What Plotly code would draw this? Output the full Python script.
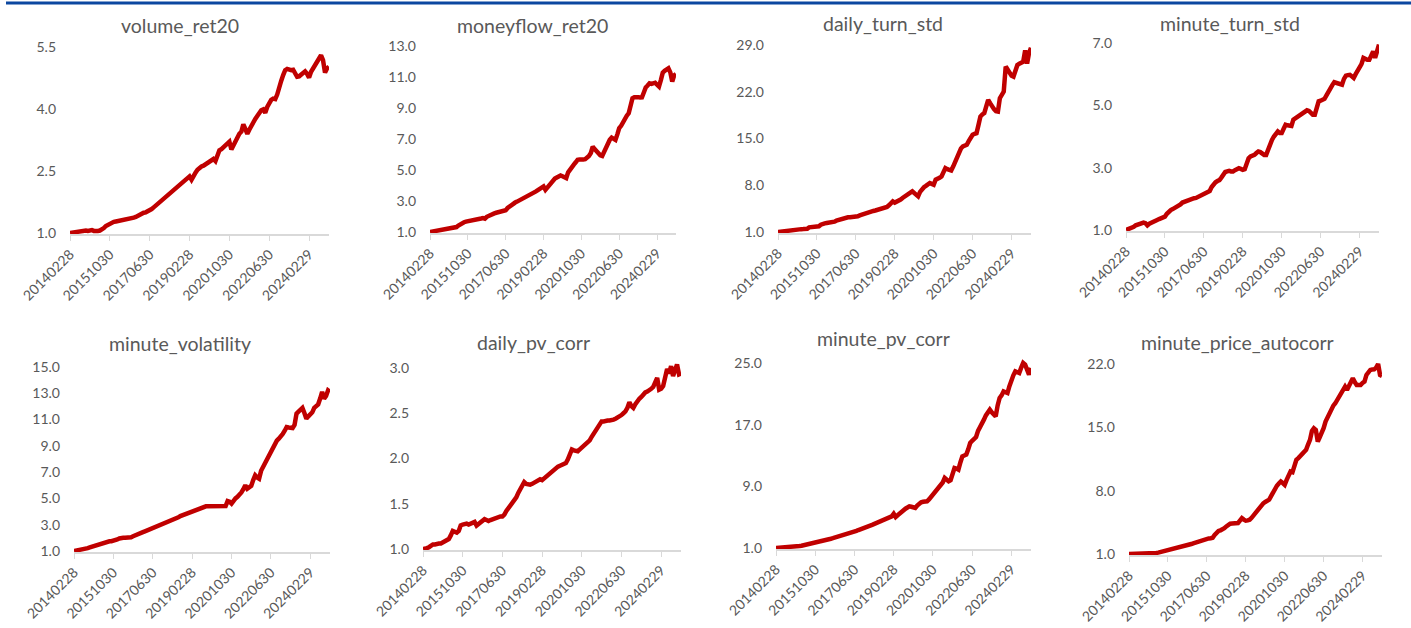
import plotly.graph_objects as go
import pandas as pd

try:
    _idx = pd.date_range("2014-02-01", periods=131, freq="BME")
except Exception:
    _idx = pd.date_range("2014-02-01", periods=131, freq="BM")
dates = [d.strftime("%Y%m%d") for d in _idx]
tick_dates = [dates[i] for i in range(0, 131, 20)]

volume_ret20 = [
    1.00, 1.01, 1.01, 1.02, 1.02, 1.03, 1.04, 1.05, 1.06, 1.05,
    1.06, 1.07, 1.05, 1.04, 1.05, 1.06, 1.08, 1.12, 1.17, 1.20,
    1.22, 1.25, 1.27, 1.28, 1.29, 1.29, 1.30, 1.30, 1.31, 1.32,
    1.33, 1.35, 1.37, 1.39, 1.42, 1.46, 1.48, 1.49, 1.50, 1.52,
    1.55, 1.58, 1.62, 1.66, 1.71, 1.75, 1.79, 1.83, 1.87, 1.91,
    1.95, 1.99, 2.03, 2.07, 2.11, 2.15, 2.19, 2.23, 2.28, 2.33,
    2.37, 2.29, 2.40, 2.46, 2.53, 2.58, 2.61, 2.63, 2.66, 2.69,
    2.72, 2.76, 2.79, 2.74, 2.90, 3.00, 3.03, 3.07, 3.12, 3.17,
    3.21, 3.02, 3.13, 3.24, 3.32, 3.40, 3.45, 3.63, 3.52, 3.40,
    3.50, 3.60, 3.69, 3.76, 3.83, 3.90, 3.97, 3.99, 3.91, 4.05,
    4.17, 4.22, 4.25, 4.24, 4.35, 4.48, 4.68, 4.82, 4.94, 4.97,
    4.95, 4.94, 4.95, 4.88, 4.78, 4.79, 4.82, 4.86, 4.91, 4.85,
    4.76, 4.90, 4.98, 5.05, 5.14, 5.22, 5.30, 5.18, 4.88, 4.98, 5.02,
]
moneyflow_ret20 = [
    1.00, 1.02, 1.03, 1.05, 1.08, 1.10, 1.15, 1.17, 1.20, 1.22,
    1.24, 1.26, 1.30, 1.27, 1.32, 1.42, 1.52, 1.58, 1.63, 1.67,
    1.69, 1.68, 1.72, 1.76, 1.78, 1.80, 1.84, 1.87, 1.90, 1.86,
    1.98, 2.05, 2.10, 2.15, 2.20, 2.24, 2.27, 2.28, 2.30, 2.35,
    2.40, 2.55, 2.65, 2.76, 2.84, 2.90, 2.96, 3.02, 3.08, 3.13,
    3.18, 3.25, 3.30, 3.38, 3.46, 3.54, 3.62, 3.70, 3.78, 3.86,
    3.94, 3.72, 3.88, 4.05, 4.22, 4.37, 4.45, 4.52, 4.60, 4.65,
    4.60, 4.52, 4.48, 4.85, 5.05, 5.23, 5.35, 5.50, 5.66, 5.68,
    5.65, 5.68, 5.70, 5.80, 5.91, 6.10, 6.50, 6.35, 6.19, 6.05,
    5.95, 5.91, 6.20, 6.50, 6.73, 6.95, 7.09, 7.05, 6.94, 7.30,
    7.70, 7.85, 8.12, 8.35, 8.50, 8.66, 9.10, 9.63, 9.70, 9.73,
    9.70, 9.68, 9.69, 10.00, 10.33, 10.45, 10.59, 10.55, 10.60, 10.63,
    10.50, 10.38, 10.80, 11.28, 11.40, 11.50, 11.56, 11.30, 10.70, 11.10, 11.19,
]
daily_turn_std = [
    1.00, 1.05, 1.08, 1.12, 1.15, 1.20, 1.25, 1.30, 1.35, 1.38,
    1.40, 1.42, 1.43, 1.44, 1.45, 1.48, 1.70, 1.75, 1.80, 1.82,
    1.84, 1.86, 2.10, 2.25, 2.30, 2.35, 2.38, 2.42, 2.45, 2.55,
    2.70, 2.80, 2.84, 2.95, 3.05, 3.15, 3.20, 3.22, 3.23, 3.24,
    3.24, 3.35, 3.48, 3.60, 3.70, 3.80, 3.90, 4.00, 4.09, 4.15,
    4.22, 4.28, 4.34, 4.44, 4.55, 4.65, 4.74, 5.00, 5.30, 5.58,
    5.40, 5.50, 5.60, 5.85, 6.10, 6.35, 6.58, 6.75, 6.90, 7.08,
    6.85, 6.60, 6.33, 7.00, 7.45, 7.70, 7.90, 8.10, 8.33, 8.20,
    8.08, 8.82, 8.90, 9.10, 9.32, 9.90, 10.57, 10.40, 10.25, 10.20,
    10.80, 11.56, 12.20, 12.90, 13.50, 13.80, 13.90, 14.05, 14.60, 15.10,
    15.55, 15.70, 15.80, 17.00, 18.29, 18.60, 18.79, 19.80, 20.78, 20.30,
    19.78, 19.40, 19.10, 19.04, 21.03, 21.40, 22.03, 25.77, 25.20, 24.77,
    24.40, 24.27, 25.20, 26.00, 26.20, 26.40, 26.50, 28.20, 26.20, 27.80, 28.60,
]
minute_turn_std = [
    1.00, 1.02, 1.04, 1.07, 1.10, 1.15, 1.18, 1.20, 1.22, 1.24,
    1.22, 1.15, 1.20, 1.24, 1.27, 1.30, 1.32, 1.35, 1.38, 1.40,
    1.43, 1.52, 1.60, 1.64, 1.67, 1.70, 1.73, 1.77, 1.82, 1.88,
    1.91, 1.94, 1.96, 1.98, 2.00, 2.02, 2.03, 2.06, 2.09, 2.12,
    2.15, 2.18, 2.22, 2.25, 2.38, 2.48, 2.53, 2.57, 2.60, 2.68,
    2.78, 2.86, 2.88, 2.90, 2.88, 2.88, 2.92, 2.96, 2.98, 2.96,
    2.93, 2.95, 3.15, 3.30, 3.36, 3.38, 3.41, 3.47, 3.52, 3.50,
    3.45, 3.41, 3.41, 3.60, 3.78, 3.89, 4.00, 4.10, 4.16, 4.11,
    4.11, 4.25, 4.38, 4.36, 4.34, 4.34, 4.54, 4.58, 4.62, 4.66,
    4.70, 4.74, 4.78, 4.84, 4.82, 4.75, 4.70, 4.70, 4.90, 5.13,
    5.15, 5.18, 5.21, 5.32, 5.45, 5.55, 5.65, 5.74, 5.72, 5.71,
    5.70, 5.66, 5.85, 5.95, 5.97, 5.98, 5.93, 5.88, 6.00, 6.10,
    6.20, 6.32, 6.52, 6.48, 6.46, 6.46, 6.60, 6.73, 6.52, 6.70, 6.95,
]
minute_volatility = [
    1.00, 1.02, 1.04, 1.06, 1.09, 1.12, 1.17, 1.22, 1.27, 1.32,
    1.36, 1.40, 1.44, 1.48, 1.52, 1.56, 1.70, 1.74, 1.74, 1.74,
    1.76, 1.82, 1.88, 1.95, 2.01, 2.01, 2.00, 2.00, 1.99, 2.05,
    2.12, 2.20, 2.26, 2.32, 2.38, 2.44, 2.50, 2.56, 2.62, 2.66,
    2.70, 2.78, 2.86, 2.94, 3.01, 3.08, 3.14, 3.19, 3.24, 3.28,
    3.33, 3.40, 3.48, 3.56, 3.66, 3.72, 3.75, 3.79, 3.84, 3.92,
    4.00, 4.07, 4.14, 4.20, 4.27, 4.35, 4.38, 4.40, 4.40, 4.40,
    4.40, 4.40, 4.40, 4.40, 4.40, 4.40, 4.40, 4.42, 4.80, 4.75,
    4.60, 4.85, 5.00, 5.12, 5.24, 5.45, 5.70, 6.00, 5.74, 5.80,
    5.95, 6.40, 6.76, 6.60, 6.50, 7.10, 7.39, 7.70, 8.05, 8.40,
    8.70, 9.00, 9.25, 9.40, 9.55, 9.70, 9.90, 10.15, 10.43, 10.40,
    10.38, 10.36, 10.60, 11.45, 11.60, 11.80, 11.88, 11.50, 11.07, 11.25,
    11.45, 11.55, 11.90, 12.05, 12.16, 12.60, 13.10, 12.59, 12.80, 13.22, 13.10,
]
daily_pv_corr = [
    1.00, 1.00, 1.01, 1.02, 1.04, 1.05, 1.05, 1.06, 1.06, 1.06,
    1.07, 1.08, 1.09, 1.11, 1.15, 1.20, 1.19, 1.18, 1.20, 1.26,
    1.27, 1.28, 1.28, 1.27, 1.28, 1.28, 1.30, 1.26, 1.28, 1.30,
    1.32, 1.33, 1.32, 1.31, 1.32, 1.33, 1.34, 1.35, 1.35, 1.36,
    1.36, 1.38, 1.42, 1.45, 1.48, 1.51, 1.53, 1.57, 1.62, 1.67,
    1.72, 1.74, 1.72, 1.71, 1.71, 1.72, 1.73, 1.74, 1.76, 1.77,
    1.76, 1.78, 1.79, 1.82, 1.84, 1.86, 1.88, 1.90, 1.91, 1.92,
    1.93, 1.94, 1.95, 1.99, 2.05, 2.10, 2.09, 2.08, 2.08, 2.10,
    2.12, 2.13, 2.15, 2.17, 2.20, 2.24, 2.27, 2.31, 2.34, 2.38,
    2.41, 2.41, 2.42, 2.42, 2.42, 2.42, 2.43, 2.44, 2.45, 2.46,
    2.48, 2.50, 2.52, 2.56, 2.62, 2.58, 2.56, 2.60, 2.64, 2.66,
    2.68, 2.71, 2.73, 2.74, 2.75, 2.77, 2.79, 2.84, 2.89, 2.76,
    2.77, 2.80, 2.92, 2.99, 2.94, 3.02, 2.91, 2.96, 3.04, 2.93, 2.94,
]
minute_pv_corr = [
    1.00, 1.01, 1.03, 1.05, 1.07, 1.09, 1.11, 1.14, 1.17, 1.20,
    1.22, 1.24, 1.26, 1.30, 1.35, 1.40, 1.45, 1.50, 1.55, 1.60,
    1.65, 1.72, 1.79, 1.86, 1.93, 2.00, 2.08, 2.14, 2.20, 2.27,
    2.34, 2.42, 2.50, 2.57, 2.65, 2.73, 2.81, 2.89, 2.96, 3.03,
    3.12, 3.22, 3.33, 3.45, 3.57, 3.66, 3.74, 3.82, 3.90, 4.00,
    4.10, 4.21, 4.33, 4.46, 4.57, 4.67, 4.78, 4.90, 5.00, 5.11,
    5.45, 5.02, 5.25, 5.50, 5.75, 5.97, 6.10, 6.25, 6.41, 6.35,
    6.25, 6.19, 6.50, 6.80, 6.92, 7.00, 7.05, 7.05, 7.30, 7.60,
    7.92, 8.20, 8.50, 8.75, 9.00, 9.50, 10.08, 9.80, 9.65, 9.80,
    10.50, 11.38, 11.30, 11.16, 12.10, 12.89, 13.00, 13.11, 13.80, 14.62,
    14.90, 15.10, 15.40, 16.20, 16.80, 17.25, 17.65, 18.20, 18.70, 18.95,
    18.60, 18.40, 18.08, 19.50, 20.46, 20.80, 21.32, 21.20, 21.10, 22.00,
    22.84, 23.40, 23.92, 23.80, 23.70, 24.40, 25.00, 24.78, 24.10, 23.49, 24.35,
]
minute_price_autocorr = [
    1.00, 1.00, 1.01, 1.01, 1.02, 1.02, 1.03, 1.04, 1.04, 1.05,
    1.06, 1.07, 1.08, 1.09, 1.11, 1.15, 1.20, 1.25, 1.30, 1.35,
    1.40, 1.46, 1.52, 1.58, 1.63, 1.68, 1.74, 1.80, 1.86, 1.92,
    1.98, 2.03, 2.10, 2.18, 2.26, 2.33, 2.40, 2.48, 2.56, 2.62,
    2.68, 2.72, 2.75, 2.80, 3.10, 3.40, 3.55, 3.62, 3.68, 3.85,
    4.05, 4.22, 4.35, 4.38, 4.40, 4.41, 4.42, 4.70, 4.97, 4.80,
    4.68, 4.72, 4.79, 5.00, 5.25, 5.52, 5.80, 6.10, 6.44, 6.60,
    6.75, 6.90, 7.00, 7.40, 7.85, 8.28, 8.55, 8.80, 9.02, 8.85,
    8.65, 9.20, 9.80, 10.12, 10.05, 10.80, 11.41, 11.60, 11.80, 11.95,
    12.20, 12.51, 13.10, 13.61, 14.60, 14.90, 14.72, 13.43, 13.90, 14.35,
    14.90, 15.64, 16.10, 16.60, 17.11, 17.40, 17.66, 18.05, 18.47, 18.90,
    19.30, 19.50, 19.13, 19.60, 20.10, 20.42, 20.00, 19.68, 19.68, 19.68,
    19.90, 20.05, 20.79, 21.10, 21.34, 21.40, 21.41, 21.60, 22.00, 20.79, 20.68,
]

ticks_volume_ret20 = [1.0, 2.5, 4.0, 5.5]
ticks_moneyflow_ret20 = [1.0, 3.0, 5.0, 7.0, 9.0, 11.0, 13.0]
ticks_daily_turn_std = [1.0, 8.0, 15.0, 22.0, 29.0]
ticks_minute_turn_std = [1.0, 3.0, 5.0, 7.0]
ticks_minute_volatility = [1.0, 3.0, 5.0, 7.0, 9.0, 11.0, 13.0, 15.0]
ticks_daily_pv_corr = [1.0, 1.5, 2.0, 2.5, 3.0]
ticks_minute_pv_corr = [1.0, 9.0, 17.0, 25.0]
ticks_minute_price_autocorr = [1.0, 8.0, 15.0, 22.0]

W, H = 1411, 628
# (title, values, ticks, x_left_px, x_right_px, top_tick_px, bottom_px, title_x_px, title_y_px)
panels = [
    ("volume_ret20", volume_ret20, ticks_volume_ret20, 70, 329, 47, 233, 180, 25),
    ("moneyflow_ret20", moneyflow_ret20, ticks_moneyflow_ret20, 430, 676, 46, 232, 532, 25),
    ("daily_turn_std", daily_turn_std, ticks_daily_turn_std, 778, 1031, 45, 232, 883, 24),
    ("minute_turn_std", minute_turn_std, ticks_minute_turn_std, 1126, 1379, 43, 230, 1230, 23),
    ("minute_volatility", minute_volatility, ticks_minute_volatility, 74, 330, 367, 551, 180, 343),
    ("daily_pv_corr", daily_pv_corr, ticks_daily_pv_corr, 423, 681, 368, 549, 533, 342),
    ("minute_pv_corr", minute_pv_corr, ticks_minute_pv_corr, 776, 1031, 363, 548, 883, 338),
    ("minute_price_autocorr", minute_price_autocorr, ticks_minute_price_autocorr, 1129, 1382, 364, 554, 1237, 342),
]

FONT = "Lato, 'Open Sans', sans-serif"
GRAY = "#595959"
RED = "#C00000"

fig = go.Figure()
layout = dict(
    width=W, height=H, autosize=False,
    margin=dict(l=0, r=0, t=0, b=0, pad=0, autoexpand=False),
    paper_bgcolor="white", plot_bgcolor="white",
    showlegend=False,
    font=dict(family=FONT, color=GRAY),
)
annotations = []
for k, (title, vals, ticks, xl, xr, yt, yb, tx, ty) in enumerate(panels):
    assert len(vals) == len(dates), (title, len(vals))
    n = k + 1
    xa = "x" if n == 1 else f"x{n}"
    ya = "y" if n == 1 else f"y{n}"
    fig.add_trace(go.Scatter(
        x=dates, y=vals, mode="lines", xaxis=xa, yaxis=ya,
        line=dict(color=RED, width=4.5), hoverinfo="x+y",
    ))
    ymin, ymax = ticks[0], ticks[-1]
    span = ymax - ymin
    ppu = (yb - yt) / span
    top_pad = 0.03 * span
    bot_pad = 0.006 * span
    top_px = yt - top_pad * ppu
    bot_px = yb + bot_pad * ppu
    layout["xaxis" if n == 1 else f"xaxis{n}"] = dict(
        domain=[xl / W, xr / W],
        anchor=ya, automargin=False,
        type="category",
        range=[0, len(dates) - 1],
        tickmode="array", tickvals=tick_dates, ticktext=tick_dates,
        tickangle=-45,
        tickfont=dict(size=14, color=GRAY, family=FONT),
        showline=True, linecolor="#D9D9D9", linewidth=1.5,
        ticks="outside", ticklen=5, tickcolor="#D9D9D9", tickwidth=1,
        showgrid=False, zeroline=False, fixedrange=True,
    )
    layout["yaxis" if n == 1 else f"yaxis{n}"] = dict(
        domain=[1 - bot_px / H, 1 - top_px / H],
        anchor=xa, automargin=False,
        range=[ymin - bot_pad, ymax + top_pad],
        tickmode="array", tickvals=ticks, ticktext=[f"{t:.1f}" for t in ticks],
        tickfont=dict(size=14, color=GRAY, family=FONT),
        ticklabelstandoff=13,
        showline=False, showgrid=False, zeroline=False, ticks="",
        fixedrange=True,
    )
    annotations.append(dict(
        text=title, x=tx / W, y=1 - ty / H, xref="paper", yref="paper",
        xanchor="center", yanchor="middle", showarrow=False,
        font=dict(size=19.5, color=GRAY, family=FONT),
    ))

layout["annotations"] = annotations
layout["shapes"] = [dict(
    type="line", xref="paper", yref="paper",
    x0=6 / W, x1=1.0, y0=1 - 3 / H, y1=1 - 3 / H,
    line=dict(color="#0B47A0", width=3),
)]
fig.update_layout(**layout)
fig.write_html(
    "out.html",
    config={"responsive": False, "displayModeBar": False},
    post_script="document.body.style.margin='0px';document.body.style.overflow='hidden';",
)
